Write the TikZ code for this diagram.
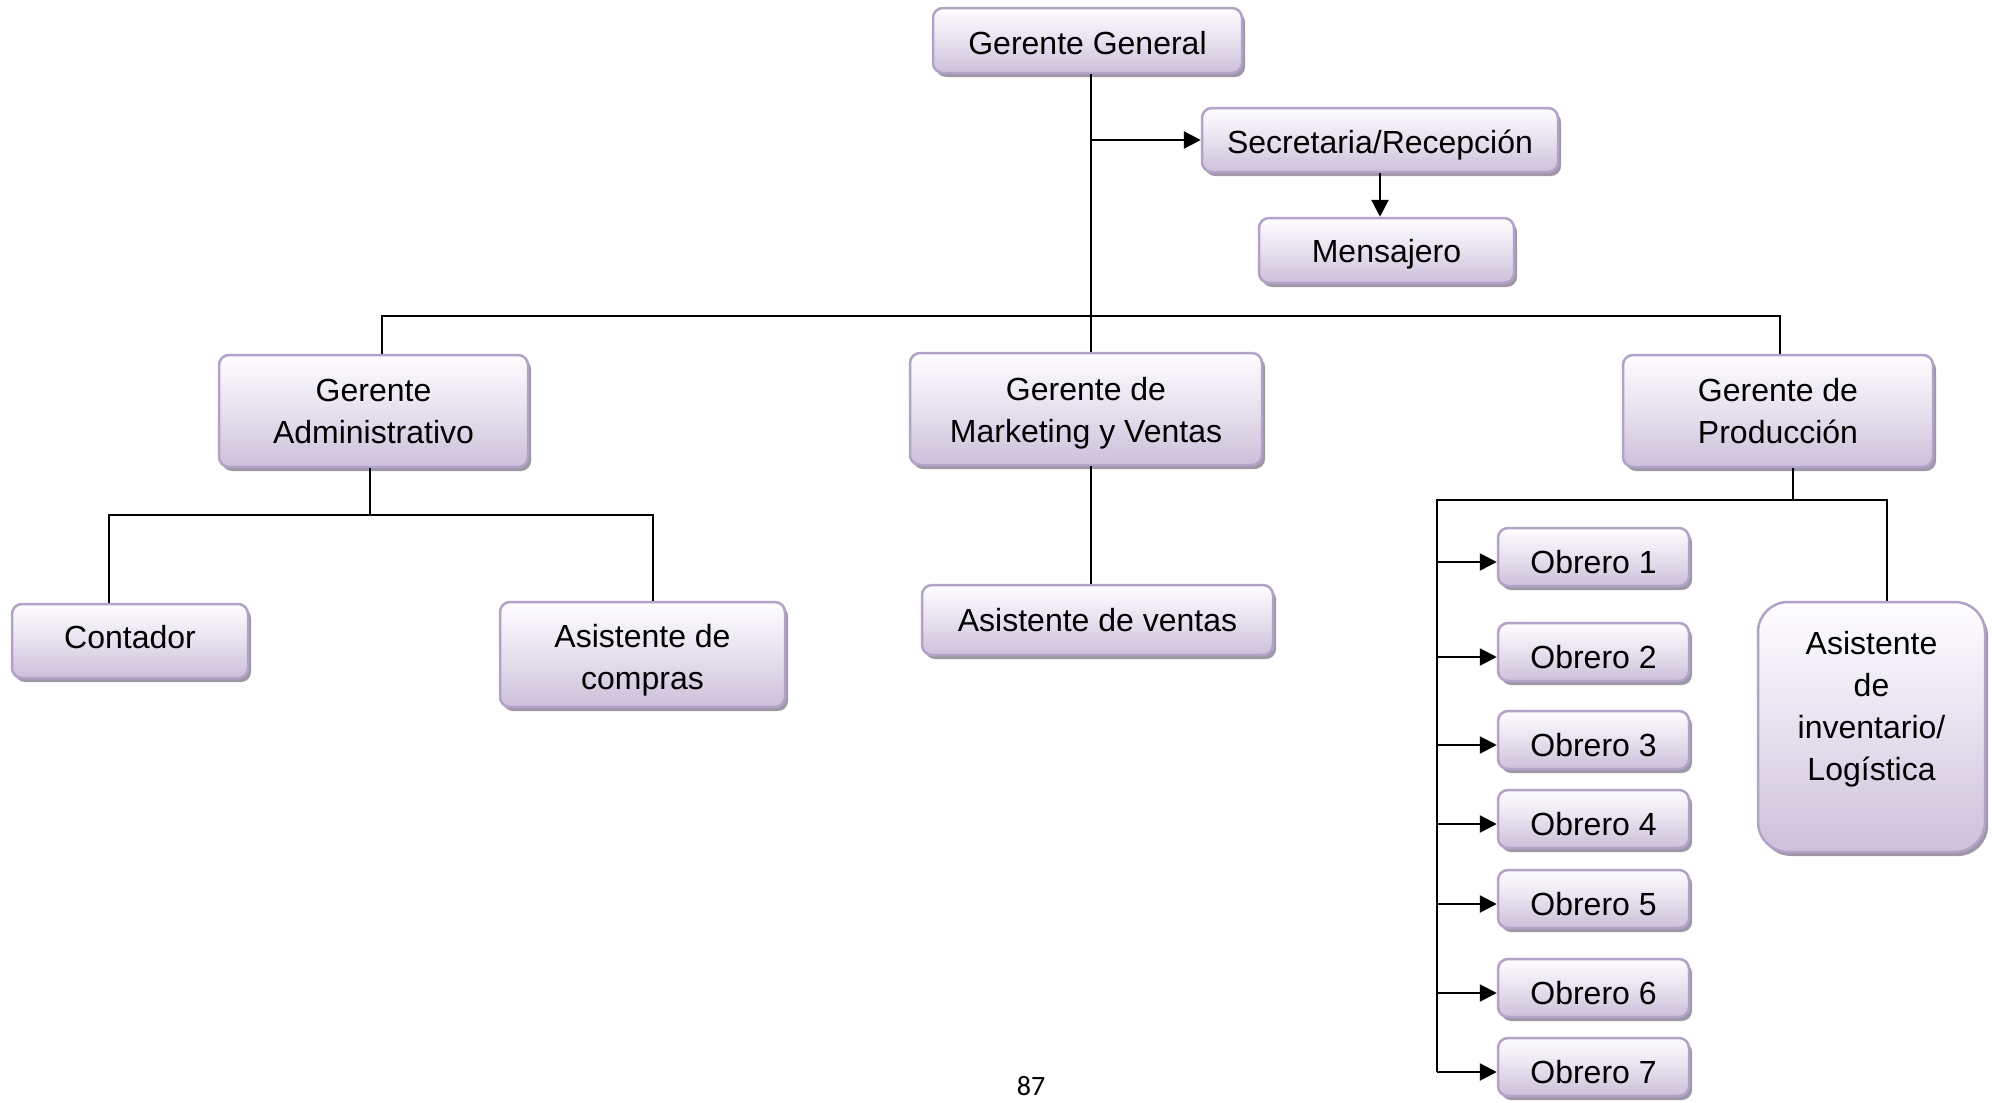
\documentclass[tikz,border=0pt]{standalone}
\usepackage{fontspec}
\setmainfont{Liberation Sans}
\newfontfamily\pagefont{Carlito}
\usetikzlibrary{arrows.meta,shadows,calc}
\definecolor{boxline}{RGB}{178,162,199}
\definecolor{boxtop}{RGB}{254,253,255}
\definecolor{boxmid}{RGB}{231,225,238}
\definecolor{boxbot}{RGB}{204,192,218}
\definecolor{boxshade}{RGB}{158,152,166}
% invisible struts that move a label down (taller line) or up (deeper line)
\newcommand\tallstrut[1]{\rule{0pt}{#1}}
\newcommand\deepstrut[1]{\rule[-#1]{0pt}{#1}}

\begin{document}
\begin{tikzpicture}[x=1pt,y=-1pt,
  orgbox/.style={draw=boxline, line width=2.5pt, rounded corners=10pt,
    top color=boxtop, bottom color=boxbot, middle color=boxmid,
    drop shadow={shadow xshift=3pt, shadow yshift=-4pt, fill=boxshade, opacity=1},
    inner sep=0pt, align=center, font=\fontsize{32pt}{42pt}\selectfont},
  worker/.style={orgbox, minimum width=191, minimum height=58},
  link/.style={line width=2.6pt, draw=black},
  arr/.style={link, -{Triangle[length=17pt,width=17pt]}},
]
\useasboundingbox (0,0) rectangle (1992,1103);

% top of the chart
\node[orgbox, minimum width=309, minimum height=65] (gg) at (1087.5,40.5) {\tallstrut{28.6pt}Gerente General};
\node[orgbox, minimum width=356, minimum height=64] (sec) at (1380,140) {\tallstrut{34pt}Secretaria/Recepción};
\node[orgbox, minimum width=255, minimum height=65] (men) at (1386.5,250.5) {\tallstrut{31pt}Mensajero};

% managers
\node[orgbox, minimum width=309, minimum height=112] (ga) at (373.5,411) {Gerente\\Administrativo};
\node[orgbox, minimum width=352, minimum height=112] (gm) at (1086,409) {\tallstrut{31.6pt}Gerente de\\Marketing y Ventas};
\node[orgbox, minimum width=310, minimum height=112] (gp) at (1778,411) {Gerente de\\Producción};

% staff
\node[orgbox, minimum width=236, minimum height=74] (cont) at (130,641) {Contador\deepstrut{8pt}};
\node[orgbox, minimum width=285, minimum height=105] (asc) at (642.5,654.5) {\tallstrut{34pt}Asistente de\\compras};
\node[orgbox, minimum width=351, minimum height=70] (asv) at (1097.5,620) {Asistente de ventas};
\node[orgbox, rounded corners=30pt, minimum width=227, minimum height=250] (inv) at (1871.5,727)
  {Asistente\\de\\inventario/\\Logística\\\mbox{}};

\node[worker] (o1) at (1593.5,557) {\tallstrut{32.6pt}Obrero 1};
\node[worker] (o2) at (1593.5,652) {\tallstrut{32.6pt}Obrero 2};
\node[worker] (o3) at (1593.5,740) {\tallstrut{32.6pt}Obrero 3};
\node[worker] (o4) at (1593.5,819) {\tallstrut{32.6pt}Obrero 4};
\node[worker] (o5) at (1593.5,899) {\tallstrut{32.6pt}Obrero 5};
\node[worker] (o6) at (1593.5,988) {\tallstrut{32.6pt}Obrero 6};
\node[worker] (o7) at (1593.5,1067) {\tallstrut{32.6pt}Obrero 7};

% page number
\node[font=\pagefont\fontsize{28pt}{34pt}\selectfont] (pg) at (1031,1086) {87};

% bus junctions
\coordinate (trunk) at (1091,316);
\coordinate (busL) at (382,316);
\coordinate (busR) at (1780,316);
\coordinate (adm) at (370,515);
\coordinate (admL) at (109,515);
\coordinate (admR) at (653,515);
\coordinate (prod) at (1793,500);
\coordinate (prodL) at (1437,500);
\coordinate (prodR) at (1887,500);

% general manager links
\draw[link] (gg.south -| trunk) -- (gm.north -| trunk);
\draw[arr] (trunk |- sec.west) -- (sec.west);
\draw[arr] (sec.south) -- (sec.south |- men.north);
\draw[link] (ga.north -| busL) -- (busL) -- (busR) -- (gp.north -| busR);

% administration
\draw[link] (ga.south -| adm) -- (adm);
\draw[link] (cont.north -| admL) -- (admL) -- (admR) -- (asc.north -| admR);

% marketing
\draw[link] (gm.south -| trunk) -- (asv.north -| trunk);

% production
\draw[link] (gp.south -| prod) -- (prod);
\foreach \i in {1,...,7} \coordinate (a\i) at ($(o\i.west)+(0,5)$);
\draw[link] (inv.north -| prodR) -- (prodR) -- (prodL) -- (prodL |- a7);
\foreach \i in {1,...,7} \draw[arr] (prodL |- a\i) -- (a\i);
\end{tikzpicture}
\end{document}
